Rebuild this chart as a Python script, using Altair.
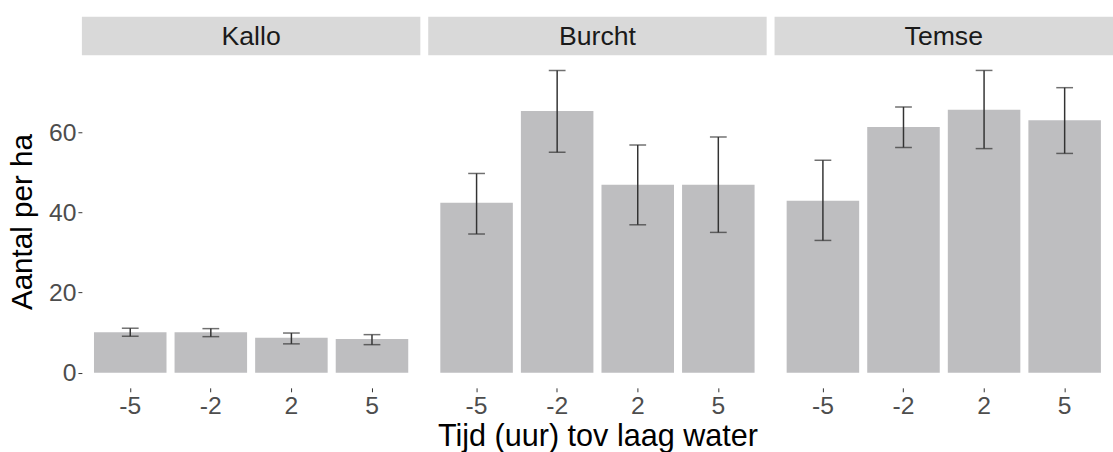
import altair as alt
import pandas as pd

# Mean counts per hectare with error-bar limits, by site and hour relative to low water
sites = ["Kallo", "Burcht", "Temse"]
hours = ["-5", "-2", "2", "5"]

kallo_mean = [10.1, 10.1, 8.7, 8.4]
kallo_low = [9.1, 9.0, 7.2, 7.0]
kallo_high = [11.1, 11.0, 9.9, 9.5]

burcht_mean = [42.4, 65.3, 46.9, 46.9]
burcht_low = [34.6, 55.0, 36.9, 35.0]
burcht_high = [49.7, 75.4, 56.8, 58.8]

temse_mean = [42.9, 61.3, 65.6, 63.0]
temse_low = [33.0, 56.2, 55.9, 54.7]
temse_high = [53.0, 66.3, 75.4, 71.1]

y_ticks = [0, 20, 40, 60]

rows = []
for site, means, lows, highs in [
    ("Kallo", kallo_mean, kallo_low, kallo_high),
    ("Burcht", burcht_mean, burcht_low, burcht_high),
    ("Temse", temse_mean, temse_low, temse_high),
]:
    for h, m, lo, hi in zip(hours, means, lows, highs):
        rows.append({"site": site, "tijd": h, "mean": m, "lo": lo, "hi": hi})
df = pd.DataFrame(rows)

W = 343
H = 337
FONT = "Liberation Sans"

top = max(df["hi"])
pad = 0.05 * top
y_scale = alt.Scale(domain=[-pad, top + pad], nice=False, zero=False)
x_scale = alt.Scale(paddingInner=0.1, paddingOuter=0.15)

x_enc = alt.X(
    "tijd:N",
    sort=hours,
    scale=x_scale,
    title=None,
    axis=alt.Axis(labelAngle=0),
)

base = alt.Chart()

bars = base.mark_bar(color="#BEBEC0").encode(
    x=x_enc,
    y=alt.Y(
        "mean:Q",
        scale=y_scale,
        title="Aantal per ha",
        axis=alt.Axis(values=y_ticks),
    ),
)

whisker = base.mark_rule(color="#333333", strokeWidth=1.5).encode(
    x=alt.X("tijd:N", sort=hours),
    y="lo:Q",
    y2="hi:Q",
)
cap_low = base.mark_tick(color="#333333", size=17, thickness=1.5).encode(
    x=alt.X("tijd:N", sort=hours), y="lo:Q"
)
cap_high = base.mark_tick(color="#333333", size=17, thickness=1.5).encode(
    x=alt.X("tijd:N", sort=hours), y="hi:Q"
)

# grey strip with the site name above each panel
strip = (
    base.mark_rect(color="#D9D9D9")
    .encode(
        x=alt.value(0), x2=alt.value(W), y=alt.value(-39), y2=alt.value(0)
    )
    .transform_filter("datum.tijd == '-5'")
)
strip_text = (
    base.mark_text(font=FONT, fontSize=27, color="#1A1A1A", baseline="middle")
    .encode(x=alt.value(W / 2), y=alt.value(-18), text="site:N")
    .transform_filter("datum.tijd == '-5'")
)

layered = alt.layer(bars, whisker, cap_low, cap_high, strip, strip_text).properties(
    width=W, height=H
)

chart = (
    layered.facet(
        data=df,
        column=alt.Column(
            "site:N",
            sort=sites,
            title="Tijd (uur) tov laag water",
            header=alt.Header(
                labels=False,
                titleOrient="bottom",
                titleFont=FONT,
                titleFontSize=31,
                titleColor="#000000",
                titleFontWeight="normal",
                titlePadding=-6,
            ),
        ),
        spacing=8,
    )
    .resolve_scale(y="shared")
    .properties(padding={"left": 8, "top": 14, "right": 0, "bottom": 0})
    .configure_view(stroke=None)
    .configure_axis(
        grid=False,
        domain=False,
        tickColor="#333333",
        tickSize=4,
        tickWidth=1,
        labelFont=FONT,
        labelFontSize=25,
        labelColor="#4D4D4D",
        labelPadding=2,
        titleFont=FONT,
        titleFontSize=30,
        titleColor="#000000",
        titleFontWeight="normal",
    )
    .configure_axisY(titlePadding=11)
)

chart.save("out.html", embed_options={"renderer": "svg", "actions": False})
